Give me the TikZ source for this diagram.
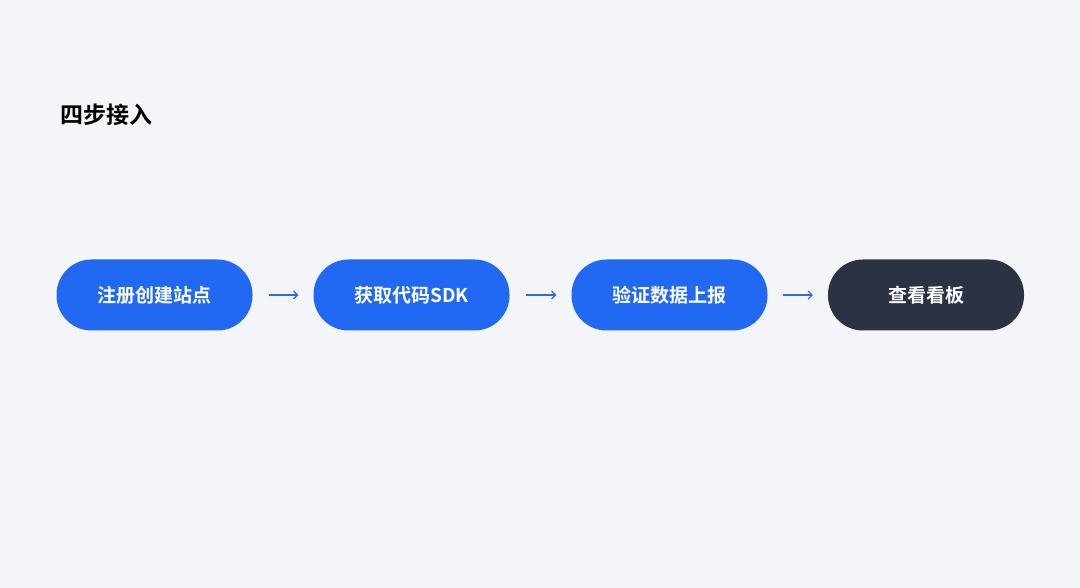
\documentclass[tikz,border=0pt]{standalone}
\usetikzlibrary{arrows.meta}
\usepackage{fontspec}
\newfontfamily\cjk{Noto Sans CJK SC}[BoldFont={* Bold}]
\definecolor{bg}{HTML}{F3F5F8}
\definecolor{pblue}{HTML}{2169F3}
\definecolor{pdark}{HTML}{2B3242}
\definecolor{arr}{HTML}{2A6BEA}
\begin{document}
\begin{tikzpicture}[x=1pt,y=-1pt,
  pill/.style={rounded corners=35pt,minimum width=196pt,minimum height=71pt,text=white,font=\cjk\bfseries\fontsize{19}{22}\selectfont,inner sep=0pt},
  flow/.style={-{Straight Barb[length=4pt,width=8pt]},arr,line width=1.1pt}]
\useasboundingbox[fill=bg] (0,0) rectangle (1080,588);
\node[anchor=west,font=\cjk\bfseries\fontsize{23}{26}\selectfont] (t) at (57,115) {四步接入};
\node[pill,fill=pblue] (a) at (154.5,295) {注册创建站点};
\node[pill,fill=pblue] (b) at (411.5,295) {获取代码SDK};
\node[pill,fill=pblue] (c) at (669.5,295) {验证数据上报};
\node[pill,fill=pdark] (d) at (926,295) {查看看板};
\draw[flow] ([xshift=16pt]a.east) -- ([xshift=-15pt]b.west);
\draw[flow] ([xshift=16pt]b.east) -- ([xshift=-15pt]c.west);
\draw[flow] ([xshift=15pt]c.east) -- ([xshift=-15pt]d.west);
\end{tikzpicture}
\end{document}
